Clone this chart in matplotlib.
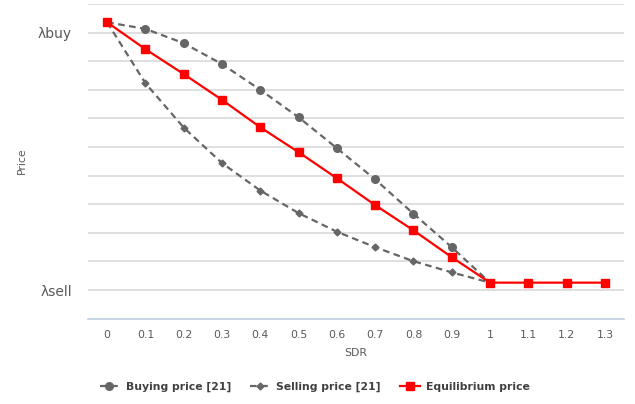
import matplotlib
matplotlib.use("Agg")
import matplotlib.pyplot as plt

categories = ["0", "0.1", "0.2", "0.3", "0.4", "0.5", "0.6", "0.7", "0.8", "0.9", "1", "1.1", "1.2", "1.3"]
buying = [10.36, 10.13, 9.63, 8.90, 8.00, 7.04, 5.96, 4.87, 3.67, 2.50, 1.26]
selling = [10.36, 8.23, 6.68, 5.44, 4.48, 3.69, 3.04, 2.50, 2.01, 1.62, 1.26]
equilibrium = [10.36, 9.42, 8.55, 7.65, 6.69, 5.82, 4.91, 3.97, 3.09, 2.15, 1.26, 1.26, 1.26, 1.26]
ytick_pos = [1, 10]
ytick_labels = ["λsell", "λbuy"]

plt.rcParams['font.family'] = ['DejaVu Sans']

fig = plt.figure(figsize=(6.35, 4.04), dpi=100)
ax = fig.add_axes([88/635, 1-318.7/404, 536/635, (318.7-4)/404])

x = list(range(len(categories)))
gray = "#666666"
ax.plot(x[:len(buying)], buying, linestyle=(0, (3, 2)), color=gray, lw=1.6,
        marker="o", markersize=5.5, label="Buying price [21]", zorder=3)
ax.plot(x[:len(selling)], selling, linestyle=(0, (3, 2)), color=gray, lw=1.6,
        marker="D", markersize=3.5, label="Selling price [21]", zorder=3)
ax.plot(x, equilibrium, linestyle="-", color="#ff0000", lw=1.6,
        marker="s", markersize=6, label="Equilibrium price", zorder=4)

ax.set_xlim(-0.5, len(categories)-0.5)
ax.set_ylim(0, 11)
ax.set_yticks(range(12))
ax.set_yticklabels(["" if i not in ytick_pos else ytick_labels[ytick_pos.index(i)] for i in range(12)],
                   fontsize=10, color="#595959")
ax.set_xticks(x)
ax.set_xticklabels(categories, fontsize=7.8, color="#595959")
ax.tick_params(axis="both", length=0)
ax.tick_params(axis="y", pad=11.5)
ax.tick_params(axis="x", pad=8)
ax.grid(axis="y", color="#d9d9d9", lw=1.2)
ax.set_axisbelow(True)
for s in ["top", "right", "left"]:
    ax.spines[s].set_visible(False)
ax.spines["bottom"].set_color("#c5d3e6")
ax.spines["bottom"].set_linewidth(1.3)

ax.set_xlabel("SDR", fontsize=7.8, color="#595959", labelpad=6)
fig.text(22/635, 1-161/404, "Price", rotation=90, fontsize=7.8, color="#595959", va="center", ha="center")

leg = fig.legend(loc="center", bbox_to_anchor=(315/635, 1-387/404), ncol=3, frameon=False,
                 prop={"weight": "bold", "size": 7.8}, handlelength=1.8, columnspacing=1.8,
                 handletextpad=0.6)
for t in leg.get_texts():
    t.set_color("#404040")

fig.savefig("out.png", dpi=100)
